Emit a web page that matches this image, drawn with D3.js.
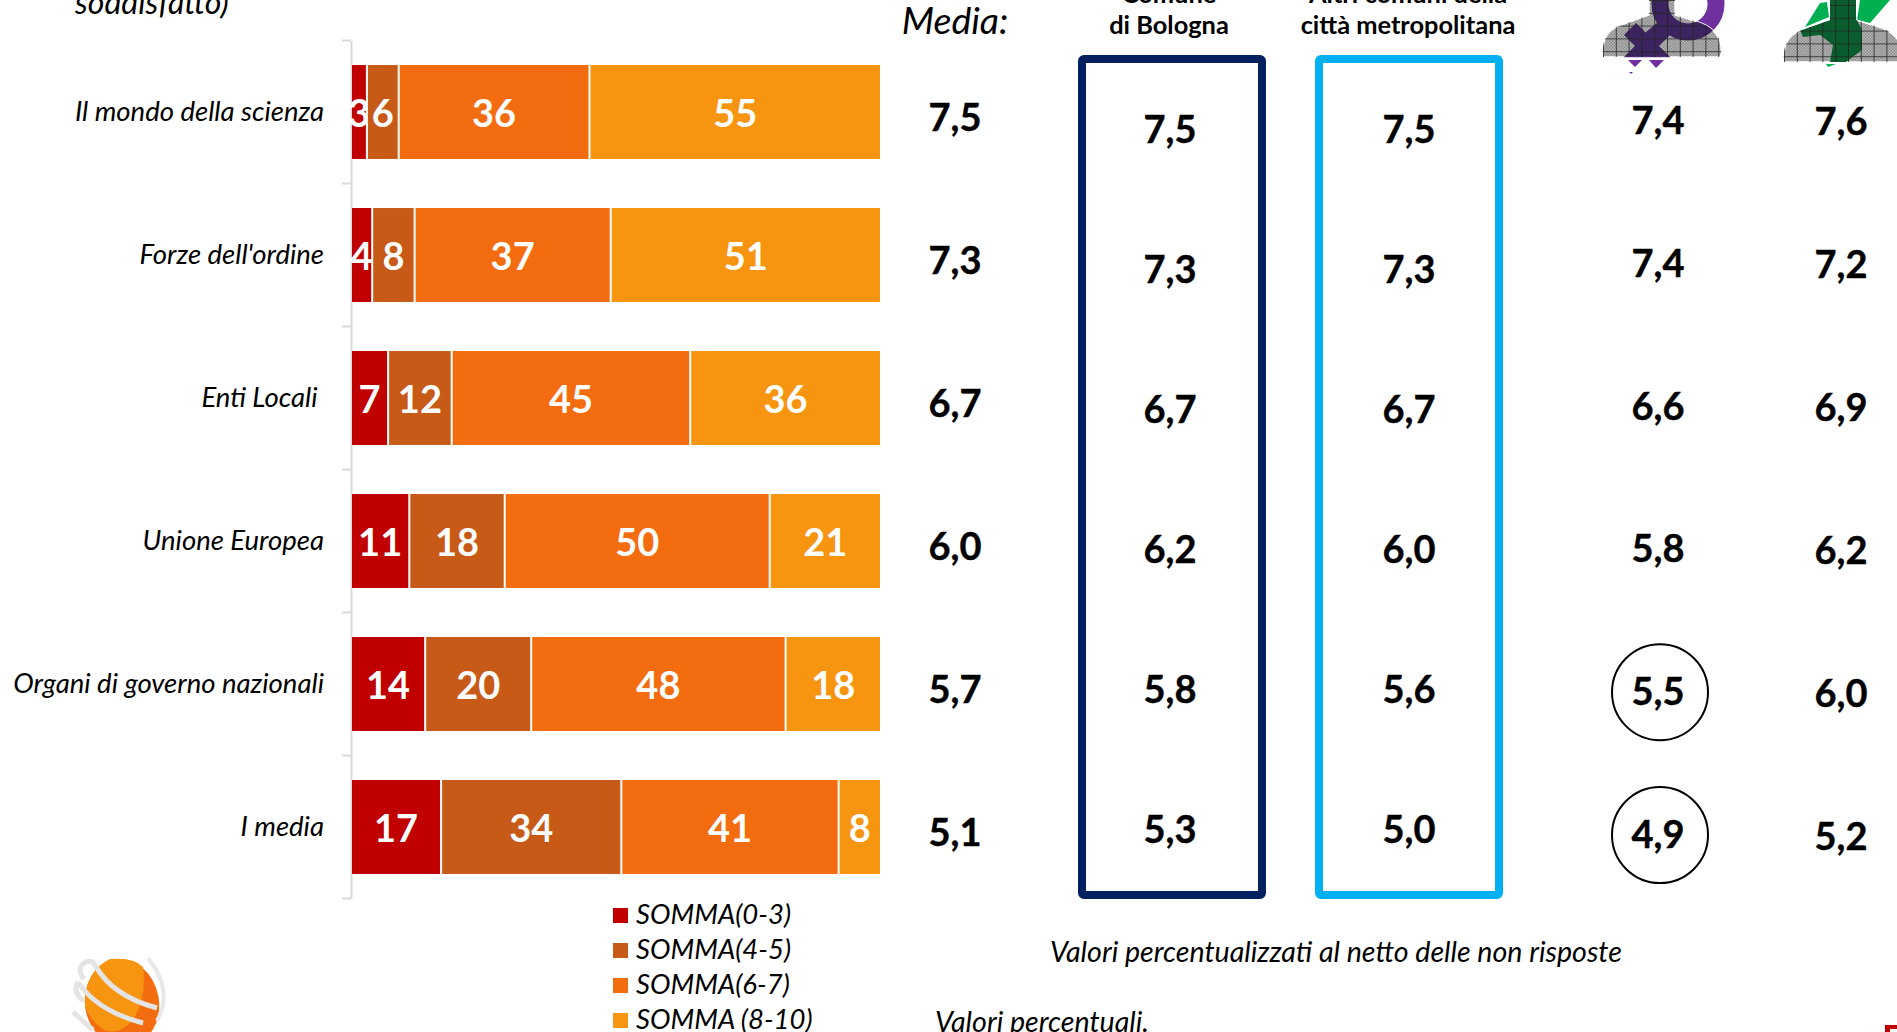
<!DOCTYPE html>
<html>
<head>
<meta charset="utf-8">
<script src="https://cdn.jsdelivr.net/npm/d3@7"></script>
<style>
  html, body { margin: 0; padding: 0; background: #fff; overflow: hidden; }
  svg { display: block; font-family: Lato, "Open Sans", sans-serif; }
  text { white-space: pre; }
  .ax text { font-family: Lato, sans-serif; font-size: 27.5px; font-style: italic; fill: #000; }
  .val { font-size: 38px; font-weight: 700; fill: #000; text-anchor: middle; stroke: #000; stroke-width: 0.4; }
  .seg { font-size: 38px; font-weight: 700; fill: #fff; text-anchor: middle; }
  .note { font-size: 28.6px; font-style: italic; fill: #000; }
  .legtxt { font-size: 27.5px; font-style: italic; fill: #000; }
  .head { font-size: 25.4px; font-weight: 700; fill: #000; text-anchor: middle; }
</style>
</head>
<body>
<svg id="chart" width="1897" height="1032"></svg>
<script>
const categories = ["Il mondo della scienza", "Forze dell'ordine", "Enti Locali ", "Unione Europea", "Organi di governo nazionali", "I media"];
const somma03 = [3, 4, 7, 11, 14, 17];
const somma45 = [6, 8, 12, 18, 20, 34];
const somma67 = [36, 37, 45, 50, 48, 41];
const somma810 = [55, 51, 36, 21, 18, 8];
const seriesNames = ["SOMMA(0-3)", "SOMMA(4-5)", "SOMMA(6-7)", "SOMMA (8-10)"];
const seriesColors = ["#C00000", "#C85A17", "#F36D10", "#F79410"];

const mediaTotale = ["7,5", "7,3", "6,7", "6,0", "5,7", "5,1"];
const mediaBologna = ["7,5", "7,3", "6,7", "6,2", "5,8", "5,3"];
const mediaAltri = ["7,5", "7,3", "6,7", "6,0", "5,6", "5,0"];
const mediaDonne = ["7,4", "7,4", "6,6", "5,8", "5,5", "4,9"];
const mediaUomini = ["7,6", "7,2", "6,9", "6,2", "6,0", "5,2"];
const cerchiati = ["Organi di governo nazionali", "I media"];

const svg = d3.select("#chart");

const rows = categories.map((c, i) => ({
  cat: c,
  [seriesNames[0]]: somma03[i],
  [seriesNames[1]]: somma45[i],
  [seriesNames[2]]: somma67[i],
  [seriesNames[3]]: somma810[i]
}));
const stacked = d3.stack().keys(seriesNames)(rows);

const x = d3.scaleLinear().domain([0, 100]).range([351, 881]);
const y = d3.scaleBand().domain(categories).range([40.5, 898.5]).paddingInner(0.343).paddingOuter(0.1715);
const color = d3.scaleOrdinal().domain(seriesNames).range(seriesColors);

// axis: labels from the band scale, ticks sit between the bands
const axisG = svg.append("g").attr("class", "ax").attr("transform", `translate(${x(0)},0)`)
  .call(d3.axisLeft(y).tickSize(0).tickPadding(27));
axisG.select(".domain").attr("stroke", "#d9d9d9").attr("stroke-width", 2);
axisG.selectAll(".sep")
  .data(d3.range(categories.length + 1))
  .enter()
  .append("line")
  .attr("x1", -9)
  .attr("x2", 0)
  .attr("y1", (d) => y.range()[0] + d * y.step())
  .attr("y2", (d) => y.range()[0] + d * y.step())
  .attr("stroke", "#d9d9d9")
  .attr("stroke-width", 2);

// bars
const layer = svg.selectAll(".layer")
  .data(stacked)
  .enter()
  .append("g")
  .attr("class", "layer");

layer.selectAll("rect")
  .data((s) => s.map((d) => ({ key: s.key, d })))
  .enter()
  .append("rect")
  .attr("x", (p) => x(p.d[0]) + 1)
  .attr("y", (p) => y(p.d.data.cat))
  .attr("width", (p) => x(p.d[1]) - x(p.d[0]) - 2)
  .attr("height", y.bandwidth())
  .attr("fill", (p) => color(p.key));

layer.selectAll("text")
  .data((s) => s.map((d) => ({ key: s.key, d })))
  .enter()
  .append("text")
  .attr("class", "seg")
  .attr("x", (p) => (x(p.d[0]) + x(p.d[1])) / 2)
  .attr("y", (p) => y(p.d.data.cat) + y.bandwidth() / 2 + 15)
  .text((p) => p.d[1] - p.d[0]);

// side columns of means
const columns = [
  { values: mediaTotale, cx: 955, range: [118, 833] },
  { values: mediaBologna, cx: 1170, range: [130, 830] },
  { values: mediaAltri, cx: 1409, range: [130, 830] },
  { values: mediaDonne, cx: 1658, range: [121, 835] },
  { values: mediaUomini, cx: 1841, range: [122, 837] }
];
columns.forEach((col) => {
  col.y = d3.scalePoint().domain(categories).range(col.range);
  svg.append("g").selectAll("text")
    .data(col.values)
    .enter()
    .append("text")
    .attr("class", "val")
    .attr("x", col.cx)
    .attr("y", (d, i) => col.y(categories[i]) + 13)
    .text((d) => d);
});

// highlighted cells
svg.selectAll(".cerchio")
  .data(cerchiati)
  .enter()
  .append("circle")
  .attr("class", "cerchio")
  .attr("cx", 1660)
  .attr("cy", (d) => columns[3].y(d))
  .attr("r", 48)
  .attr("fill", "none")
  .attr("stroke", "#000")
  .attr("stroke-width", 2);

// frames around the two area columns
[{ x: 1082, stroke: "#002060" }, { x: 1319, stroke: "#00B0F0" }].forEach((b) => {
  svg.append("rect")
    .attr("x", b.x).attr("y", 59)
    .attr("width", 180).attr("height", 836)
    .attr("rx", 2)
    .attr("fill", "none")
    .attr("stroke", b.stroke)
    .attr("stroke-width", 8);
});

// headings
svg.append("text").attr("x", 955).attr("y", 34).attr("text-anchor", "middle")
  .style("font-size", "37.5px").style("font-style", "italic").text("Media:");
svg.append("text").attr("class", "head").attr("x", 1169).attr("y", 3).text("Comune");
svg.append("text").attr("class", "head").attr("x", 1169).attr("y", 34).text("di Bologna");
svg.append("text").attr("class", "head").attr("x", 1408).attr("y", 3).text("Altri comuni della");
svg.append("text").attr("class", "head").attr("x", 1408).attr("y", 34).text("città metropolitana");
svg.append("text").attr("x", 75).attr("y", 14).style("font-size", "32px").style("font-style", "italic").text("soddisfatto)");

// legend
const legend = svg.selectAll(".leg")
  .data(seriesNames)
  .enter()
  .append("g")
  .attr("class", "leg")
  .attr("transform", (d, i) => `translate(613,${915 + i * 35})`);
legend.append("rect").attr("y", -7).attr("width", 15).attr("height", 15).attr("fill", (d) => color(d));
legend.append("text").attr("class", "legtxt").attr("x", 23).attr("y", 9).text((d) => d);

// notes
svg.append("text").attr("class", "note").attr("x", 1050).attr("y", 962).text("Valori percentualizzati al netto delle non risposte");
svg.append("text").attr("class", "note").attr("x", 935).attr("y", 1032).text("Valori percentuali.");
svg.append("rect").attr("x", 1885).attr("y", 1025).attr("width", 12).attr("height", 7).attr("fill", "#C00000");
svg.append("rect").attr("x", 1890).attr("y", 1029).attr("width", 7).attr("height", 3).attr("fill", "#fff");

// silhouettes
const defs = svg.append("defs");
const checker = defs.append("pattern").attr("id", "checker").attr("width", 3).attr("height", 3).attr("patternUnits", "userSpaceOnUse");
checker.append("rect").attr("width", 3).attr("height", 3).attr("fill", "#8f8f8f");
checker.append("rect").attr("width", 1.5).attr("height", 1.5).attr("fill", "#b5b5b5");
checker.append("rect").attr("x", 1.5).attr("y", 1.5).attr("width", 1.5).attr("height", 1.5).attr("fill", "#b5b5b5");
const grid = defs.append("pattern").attr("id", "griglia").attr("width", 12.8).attr("height", 12.8).attr("patternUnits", "userSpaceOnUse");
grid.append("path").attr("d", "M0 0H12.8M0 0V12.8").attr("stroke", "#222").attr("stroke-width", 1.6).attr("fill", "none");

const bust = "M0 57 Q-1 57 0 47 Q2 30 18 25 L46 15 V-10 H72 V15 L98 23 Q116 30 118 47 Q119 57 116 57 Z";
defs.append("clipPath").attr("id", "clipF").append("path").attr("d", bust);
defs.append("clipPath").attr("id", "clipM").append("path").attr("d", bust);

function venus(g, fill) {
  g.append("circle").attr("cx", 85).attr("cy", 4).attr("r", 28).attr("fill", "none").attr("stroke", fill).attr("stroke-width", 17);
  g.append("path").attr("d", "M66 24 L42 44").attr("stroke", fill).attr("stroke-width", 17);
  g.append("path").attr("d", "M27 29 L62 64 M62 28 L22 68").attr("stroke", fill).attr("stroke-width", 17);
}

const gF = svg.append("g").attr("transform", "translate(1603,0)");
venus(gF, "#7030A0");
gF.append("rect").attr("x", 10).attr("y", 58).attr("width", 90).attr("height", 14).attr("fill", "#fff");
gF.append("path").attr("d", "M25 60 H39 L32 67 Z M46 60 H61 L53 68 Z").attr("fill", "#7030A0");
gF.append("path").attr("d", bust).attr("fill", "url(#checker)").attr("stroke", "#fff").attr("stroke-width", 1.5);
venus(gF.append("g").attr("clip-path", "url(#clipF)").attr("opacity", 0.85), "#2c0f55");
gF.append("path").attr("d", bust).attr("fill", "url(#griglia)");

const gM = svg.append("g").attr("transform", "translate(1784,5)");
gM.append("path").attr("d", "M21 22 L36 -2 L43 -3 L45 12 Z M73 15 L86 18 L106 -5 H76 Z M42 59 L52 59 L44 62 Z").attr("fill", "#00B050");
gM.append("path").attr("d", bust).attr("fill", "url(#checker)").attr("stroke", "#fff").attr("stroke-width", 1.5);
gM.append("g").attr("clip-path", "url(#clipM)")
  .append("path").attr("d", "M16 25 L19 32 L36 30 L49 40 L46 57 H62 L78 45 V25 L73 15 V-10 H46 V15 Z")
  .attr("fill", "#0a5e2e");
gM.append("path").attr("d", bust).attr("fill", "url(#griglia)");

// logo
const logo = svg.append("g").attr("transform", "translate(122,1003)");
logo.append("ellipse").attr("rx", 37).attr("ry", 44).attr("transform", "rotate(-10)").attr("fill", "#F36D10");
logo.append("path").attr("d", "M-12 -44 Q12 -46 21 -36 Q25 -5 11 17 Q-15 45 -37 5 Q-38 -32 -12 -44 Z").attr("fill", "#F79410");
logo.append("path").attr("d", "M-27 -38 Q-10 -7 35 5 M-44 -21 Q-25 8 21 20 M-49 9 L-29 27 M-27 -38 Q-30 -44 -38 -40 Q-46 -34 -38 -24 M-44 -21 Q-50 -10 -38 -2")
  .attr("fill", "none").attr("stroke", "#e4e4e4").attr("stroke-width", 5);
logo.append("path").attr("d", "M26 -45 Q52 -12 35 18").attr("fill", "none").attr("stroke", "#e8e8e8").attr("stroke-width", 4);
</script>
</body>
</html>
